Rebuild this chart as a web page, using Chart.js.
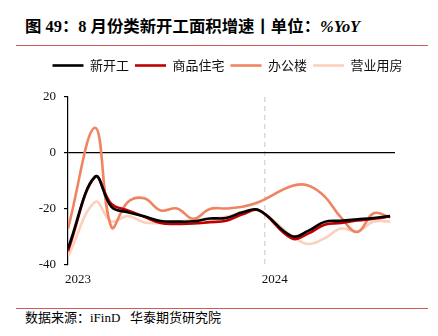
<!DOCTYPE html>
<html>
<head>
<meta charset="utf-8">
<script src="https://cdn.jsdelivr.net/npm/chart.js@4"></script>
<style>
  html, body { margin: 0; padding: 0; background: #fff; }
  body { width: 438px; height: 336px; position: relative; overflow: hidden; }
  .title {
    position: absolute; left: 25px; top: 13px;
    font: bold 16.4px "Liberation Serif", "Noto Sans CJK SC", serif;
    color: #000; white-space: nowrap;
  }
  .title i { font-style: italic; }
  .rule { position: absolute; left: 16px; width: 412px; height: 1px; background: #cc5b5b; }
  .source {
    position: absolute; left: 25px; top: 307px;
    font: 13px "Liberation Serif", "Noto Sans CJK SC", serif;
    color: #000; white-space: nowrap;
  }
  #wrap { position: absolute; left: 0; top: 48px; width: 438px; height: 252px; }
</style>
</head>
<body>
<div class="title">图 49：8 月份类新开工面积增速丨单位：<i>%YoY</i></div>
<div class="rule" style="top:45px"></div>
<div id="wrap"><canvas id="chart"></canvas></div>
<div class="rule" style="top:308px"></div>
<div class="source">数据来源：iFinD&nbsp;&nbsp;&nbsp;华泰期货研究院</div>

<script>
// x position of each point, in months from the start of 2023
// (Dec 2022, then Jan-Feb 2023 ... Dec 2023, Jan-Feb 2024 ... Aug 2024)
const months = [0, 1.65, 2.65, 3.65, 4.65, 5.65, 6.65, 7.65, 8.65, 9.65, 10.65, 11.65,
  13.65, 14.65, 15.65, 16.65, 17.65, 18.65, 19.65];

const seriesNames = ['新开工', '商品住宅', '办公楼', '营业用房'];
const seriesColors = ['#000000', '#c00000', '#f08462', '#fbd0bc'];

const newStarts = [-34, -8.5, -19.2, -21.2, -22.6, -24.3, -24.5, -24.4, -23.4, -23.2, -21.2, -20.4,
  -29.7, -27.8, -24.6, -24.2, -23.7, -23.2, -22.5];
const residential = [-35, -8.5, -18.2, -20.5, -22.8, -25.0, -25.3, -25.2, -24.7, -24.2, -21.9, -20.5,
  -30.5, -28.8, -25.6, -25.0, -24.1, -23.5, -22.7];
const office = [-27, 9, -26.5, -17.5, -16.2, -20.5, -19.8, -23.5, -20.0, -19.8, -19.2, -17.5,
  -11.8, -11.6, -15.5, -23.0, -28.2, -21.5, -23.0];
const commercial = [-37, -17.5, -24.5, -22.5, -24.8, -25.0, -24.5, -24.0, -23.5, -22.8, -21.0, -20.5,
  -29.5, -32.5, -30.5, -27.0, -28.0, -24.5, -24.5];

const yearTicks = [0, 12];
const yearLabels = ['2023', '2024'];

const allSeries = [newStarts, residential, office, commercial];

const datasets = allSeries.map((vals, i) => ({
  label: seriesNames[i],
  data: vals.map((v, j) => ({ x: months[j], y: v })),
  borderColor: seriesColors[i],
  backgroundColor: seriesColors[i],
  borderWidth: 2.6,
  pointRadius: 0,
  tension: 0.4,
  fill: false
}));

// extra room under the legend, and nudge it right to sit over the whole figure
const legendTweak = {
  id: 'legendTweak',
  beforeInit(chart) {
    const fit = chart.legend.fit;
    chart.legend.fit = function () {
      fit.bind(chart.legend)();
      this.height += 15;
    };
  },
  afterLayout(chart) {
    chart.legend.left += 30;
    chart.legend.right += 30;
  }
};

new Chart(document.getElementById('chart'), {
  type: 'line',
  data: { datasets },
  plugins: [legendTweak],
  options: {
    responsive: true,
    maintainAspectRatio: false,
    animation: false,
    layout: { padding: { top: 5, right: 43, bottom: 7, left: 0 } },
    plugins: {
      tooltip: { enabled: false },
      legend: {
        position: 'top',
        labels: {
          usePointStyle: true,
          pointStyle: 'line',
          pointStyleWidth: 31,
          padding: 6,
          color: '#111',
          font: { family: '"Noto Sans CJK SC", sans-serif', size: 13 }
        }
      }
    },
    scales: {
      x: {
        type: 'linear',
        min: 0,
        max: 19.95,
        afterBuildTicks: (scale) => { scale.ticks = yearTicks.map(v => ({ value: v })); },
        afterFit: (scale) => { scale.height = 28; },
        ticks: {
          align: 'start',
          labelOffset: -3,
          padding: 7,
          color: '#111',
          font: { family: '"Liberation Serif", serif', size: 13 },
          callback: (v) => yearLabels[yearTicks.indexOf(v)] || ''
        },
        grid: {
          drawTicks: false,
          lineWidth: 1.5,
          color: (ctx) => ctx.tick && ctx.tick.value === 12 ? '#d9d9d9' : 'rgba(0,0,0,0)'
        },
        border: { display: false, dash: [5, 4] }
      },
      y: {
        min: -40,
        max: 20,
        afterFit: (scale) => { scale.width = 68; },
        ticks: {
          stepSize: 20,
          padding: 8,
          color: '#111',
          font: { family: '"Liberation Serif", serif', size: 13 }
        },
        grid: {
          tickLength: 4,
          tickColor: '#000',
          lineWidth: 1.2,
          color: (ctx) => ctx.tick && ctx.tick.value === 0 ? '#000' : 'rgba(0,0,0,0)'
        },
        border: { display: true, color: '#000', width: 1.2 }
      }
    }
  }
});
</script>
</body>
</html>
